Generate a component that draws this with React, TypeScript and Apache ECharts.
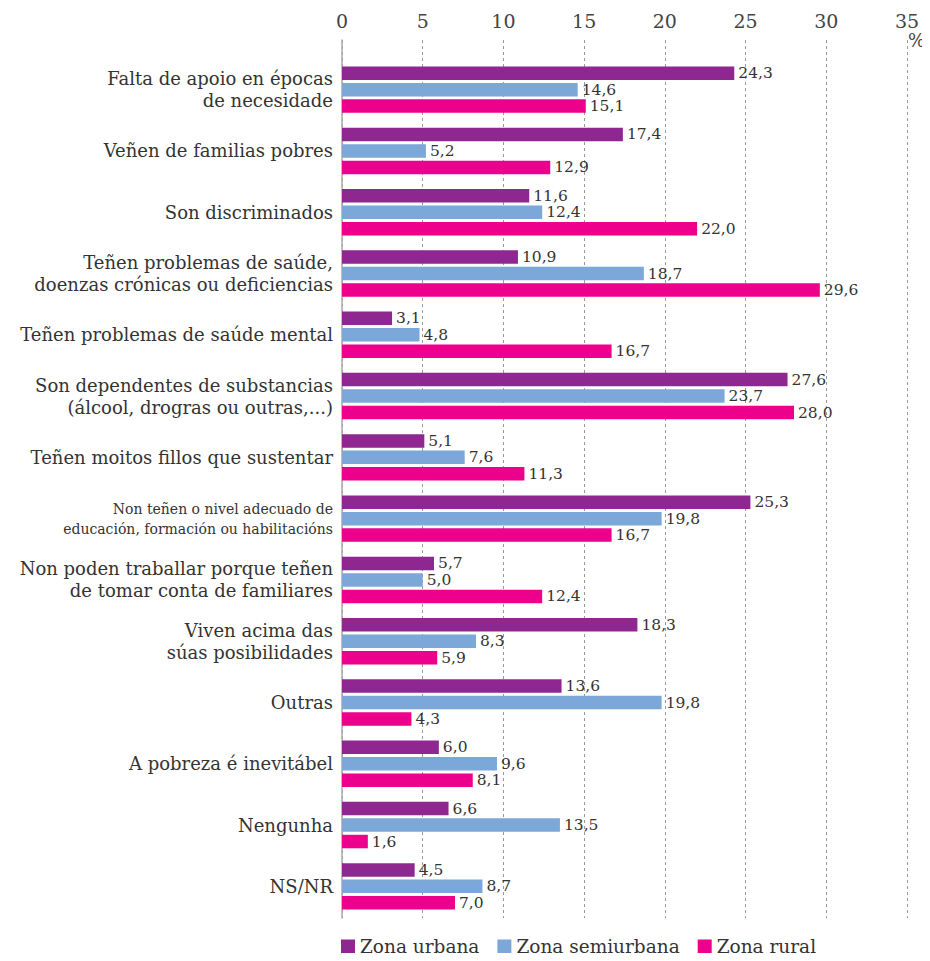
import React, { useEffect, useRef } from "react";
import * as echarts from "echarts";

const categories = [
  "Falta de apoio en épocas\nde necesidade",
  "Veñen de familias pobres",
  "Son discriminados",
  "Teñen problemas de saúde,\ndoenzas crónicas ou deficiencias",
  "Teñen problemas de saúde mental",
  "Son dependentes de substancias\n(álcool, drogras ou outras,...)",
  "Teñen moitos fillos que sustentar",
  "Non teñen o nivel adecuado de\neducación, formación ou habilitacións",
  "Non poden traballar porque teñen\nde tomar conta de familiares",
  "Viven acima das\nsúas posibilidades",
  "Outras",
  "A pobreza é inevitábel",
  "Nengunha",
  "NS/NR",
];

const smallLabels = [
  "Non teñen o nivel adecuado de\neducación, formación ou habilitacións",
];

const seriesNames = ["Zona urbana", "Zona semiurbana", "Zona rural"];
const urbana = [24.3, 17.4, 11.6, 10.9, 3.1, 27.6, 5.1, 25.3, 5.7, 18.3, 13.6, 6.0, 6.6, 4.5];
const semiurbana = [14.6, 5.2, 12.4, 18.7, 4.8, 23.7, 7.6, 19.8, 5.0, 8.3, 19.8, 9.6, 13.5, 8.7];
const rural = [15.1, 12.9, 22.0, 29.6, 16.7, 28.0, 11.3, 16.7, 12.4, 5.9, 4.3, 8.1, 1.6, 7.0];
const colors = ["#8E278F", "#7BA7D9", "#EC008C"];
const xTicks = { min: 0, max: 35, interval: 5 };

const FONT = "DejaVu Serif";

export default function App() {
  const ref = useRef<HTMLDivElement>(null);
  useEffect(() => {
    const chart = echarts.init(ref.current!, null, { renderer: "svg" });
    const values = [urbana, semiurbana, rural];
    chart.setOption({
      animation: false,
      textStyle: { fontFamily: FONT },
      legend: {
        bottom: 0,
        left: 336,
        itemWidth: 14,
        itemHeight: 14,
        itemGap: 18,
        icon: "rect",
        textStyle: { fontFamily: FONT, fontSize: 18.5, color: "#333" },
        data: seriesNames,
      },
      grid: [
        { left: 342, right: 23, top: 40, bottom: 43, containLabel: false },
        { left: 342, right: 23, top: 59, bottom: 44, containLabel: false },
      ],
      xAxis: [
        {
          gridIndex: 0,
          type: "value",
          position: "top",
          min: xTicks.min,
          max: xTicks.max,
          interval: xTicks.interval,
          axisLine: { show: false },
          axisTick: { show: false },
          axisLabel: { fontFamily: FONT, fontSize: 19, color: "#444", margin: 10 },
          splitLine: { show: true, lineStyle: { type: [3, 3], color: "#999", width: 1 } },
        },
        {
          gridIndex: 1,
          type: "value",
          min: xTicks.min,
          max: xTicks.max,
          show: false,
          splitLine: { show: false },
        },
      ],
      yAxis: [
        {
          gridIndex: 0,
          type: "value",
          min: 0,
          max: 1,
          axisLine: { show: true, lineStyle: { color: "#aaa", width: 1.5 } },
          axisTick: { show: false },
          axisLabel: { show: false },
          splitLine: { show: false },
        },
        {
          gridIndex: 1,
          type: "category",
          data: categories,
          inverse: true,
          axisLine: { show: false },
          axisTick: { show: false },
          axisLabel: {
            fontFamily: FONT,
            fontSize: 18,
            color: "#333",
            margin: 9,
            lineHeight: 22,
            align: "right",
            formatter: (v: string) => (smallLabels.includes(v) ? `{s|${v}}` : v),
            rich: {
              s: { fontFamily: FONT, fontSize: 14, lineHeight: 20, color: "#333", align: "right" },
            },
          },
          splitLine: { show: false },
        },
      ],
      series: seriesNames.map((name, i) => ({
        name,
        type: "bar",
        xAxisIndex: 1,
        yAxisIndex: 1,
        data: values[i],
        barWidth: 13.5,
        barGap: "22%",
        itemStyle: { color: colors[i] },
        label: {
          show: true,
          position: "right",
          distance: 4,
          fontFamily: FONT,
          fontSize: 15.5,
          color: "#333",
          formatter: (p: any) => p.value.toFixed(1).replace(".", ","),
        },
      })),
      graphic: [
        {
          type: "text",
          left: 908,
          top: 31,
          style: { text: "%", fontFamily: FONT, fontSize: 18, fill: "#444" },
        },
      ],
    });
    return () => chart.dispose();
  }, []);
  return <div ref={ref} style={{ width: 930, height: 961, margin: -8 }} />;
}
